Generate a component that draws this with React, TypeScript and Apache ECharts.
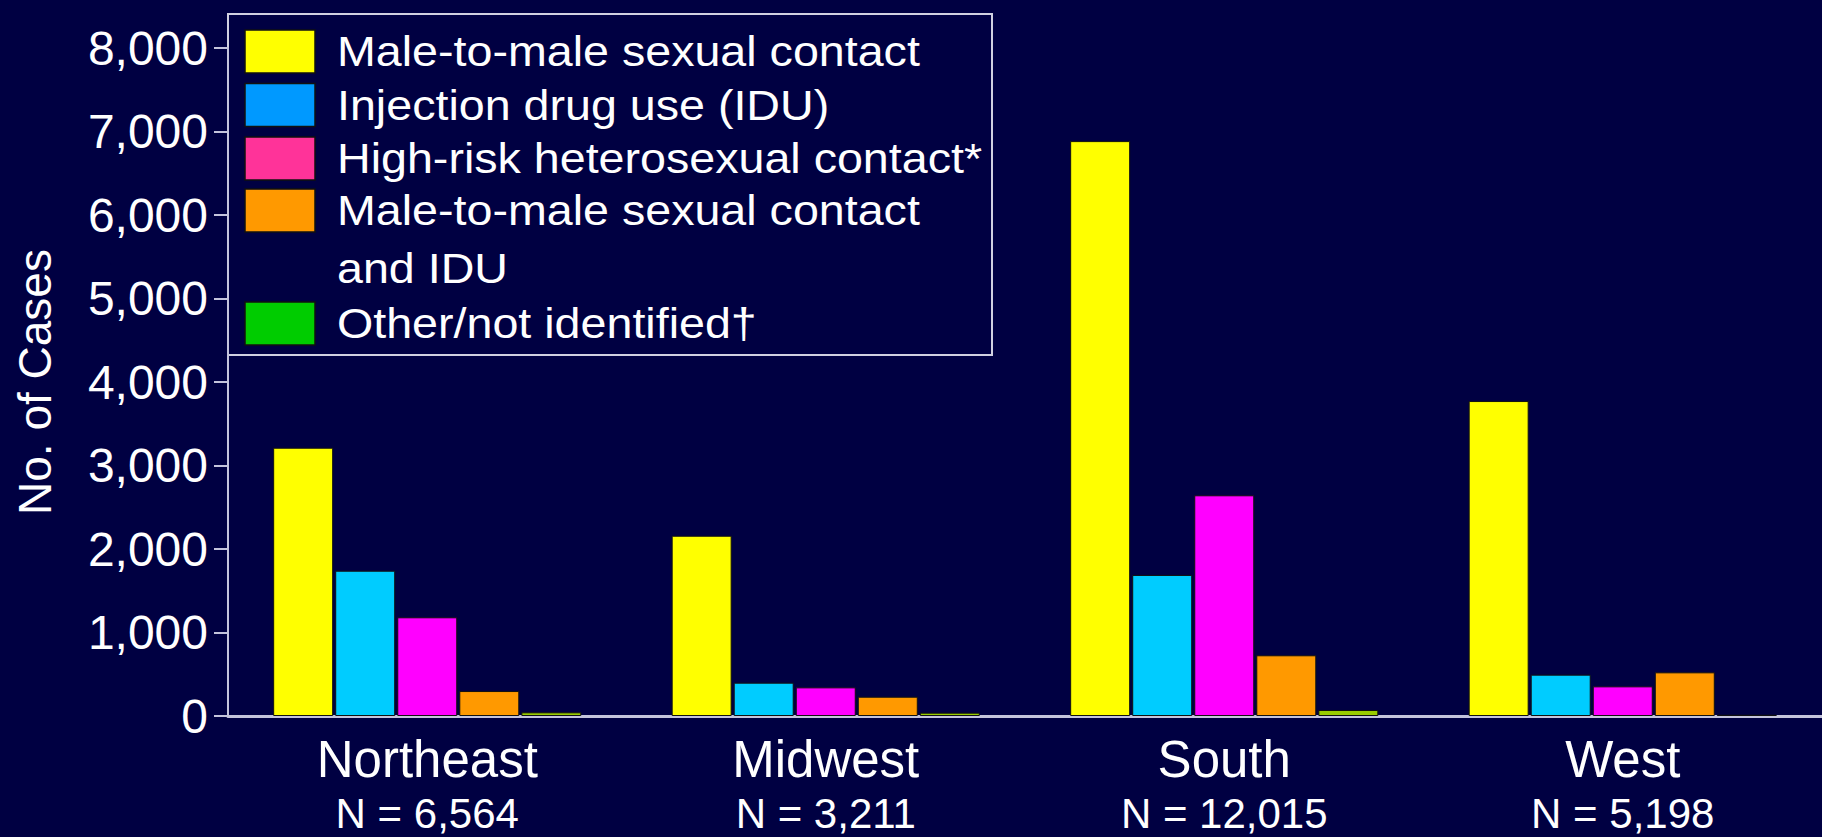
import React, { useEffect, useRef } from "react";
import * as echarts from "echarts";

const regions = ["Northeast", "Midwest", "South", "West"];
const regionTotals = ["6,564", "3,211", "12,015", "5,198"];

const seriesNames = [
  "Male-to-male sexual contact",
  "Injection drug use (IDU)",
  "High-risk heterosexual contact*",
  "Male-to-male sexual contact and IDU",
  "Other/not identified\u2020",
];

const msm = [3213, 2159, 6885, 3772];
const idu = [1740, 399, 1689, 495];
const hetero = [1182, 343, 2643, 355];
const msmIdu = [299, 231, 727, 523];
const other = [44, 40, 72, 15];

const seriesValues = [msm, idu, hetero, msmIdu, other];
const barColors = ["#FFFF00", "#00CCFF", "#FF00FF", "#FF9900", "#99CC00"];
const legendColors = ["#FFFF00", "#0099FF", "#FF3399", "#FF9900", "#00CC00"];
const legendLines = [
  ["Male-to-male sexual contact"],
  ["Injection drug use (IDU)"],
  ["High-risk heterosexual contact*"],
  ["Male-to-male sexual contact", "and IDU"],
  ["Other/not identified\u2020"],
];

const yTicks = { min: 0, max: 8000, interval: 1000 };

const FONT = "'Liberation Sans', Arial, sans-serif";
const BG = "#000042";
const AXIS = "#c4c4dc";
const W = 1822;
const H = 837;

export default function App() {
  const ref = useRef<HTMLDivElement>(null);

  useEffect(() => {
    if (!ref.current) return;
    document.body.style.margin = "0";
    const chart = echarts.init(ref.current, null, { renderer: "svg", width: W, height: H });

    const legendChildren: any[] = [];
    legendChildren.push({
      type: "rect",
      shape: { x: 228, y: 14, width: 764, height: 341 },
      style: { fill: BG, stroke: "#d0d0e0", lineWidth: 2 },
    });
    const rowY = [51.5, 105, 158.5, 210.5, 323.5];
    legendLines.forEach((lines, i) => {
      legendChildren.push({
        type: "rect",
        shape: { x: 245, y: rowY[i] - 21.5, width: 70, height: 43 },
        style: { fill: legendColors[i], stroke: "#111111", lineWidth: 1.5 },
      });
      lines.forEach((t, j) => {
        legendChildren.push({
          type: "text",
          x: 337,
          y: rowY[i] + j * 58,
          scaleX: 1.11,
          style: {
            text: t,
            fill: "#ffffff",
            font: `42px ${FONT}`,
            verticalAlign: "middle",
            align: "left",
          },
        });
      });
    });

    const option: any = {
      animation: false,
      backgroundColor: BG,
      textStyle: { fontFamily: FONT },
      grid: { left: 228, right: -12, top: 48, bottom: 121, containLabel: false },
      xAxis: {
        type: "category",
        data: regions,
        axisLine: { show: true, lineStyle: { color: AXIS, width: 3 } },
        axisTick: { show: false },
        axisLabel: {
          margin: 12,
          color: "#ffffff",
          formatter: (v: string, i: number) => `{a|${v}}\n{b|N = ${regionTotals[i]}}`,
          rich: {
            a: { fontSize: 51, lineHeight: 62, color: "#ffffff", fontFamily: FONT },
            b: { fontSize: 42, lineHeight: 46, color: "#ffffff", fontFamily: FONT },
          },
        },
      },
      yAxis: {
        type: "value",
        min: yTicks.min,
        max: yTicks.max,
        interval: yTicks.interval,
        name: "No. of Cases",
        nameLocation: "middle",
        nameGap: 170,
        nameTextStyle: { color: "#ffffff", fontSize: 46, fontFamily: FONT },
        axisLine: { show: true, lineStyle: { color: AXIS, width: 2 } },
        axisTick: { show: true, length: 14, lineStyle: { color: AXIS, width: 2 } },
        axisLabel: {
          color: "#ffffff",
          fontSize: 48,
          fontFamily: FONT,
          margin: 20,
          formatter: (v: number) => v.toLocaleString("en-US"),
        },
        splitLine: { show: false },
      },
      series: seriesNames.map((name, i) => ({
        name,
        type: "bar",
        data: seriesValues[i],
        barWidth: 60,
        barGap: "3.4%",
        itemStyle: { color: barColors[i], borderColor: "#111111", borderWidth: 1 },
      })),
      graphic: [{ type: "group", children: legendChildren }],
    };

    chart.setOption(option);
    return () => chart.dispose();
  }, []);

  return (
    <div
      ref={ref}
      style={{ position: "fixed", left: 0, top: 0, width: W, height: H, background: BG }}
    />
  );
}
